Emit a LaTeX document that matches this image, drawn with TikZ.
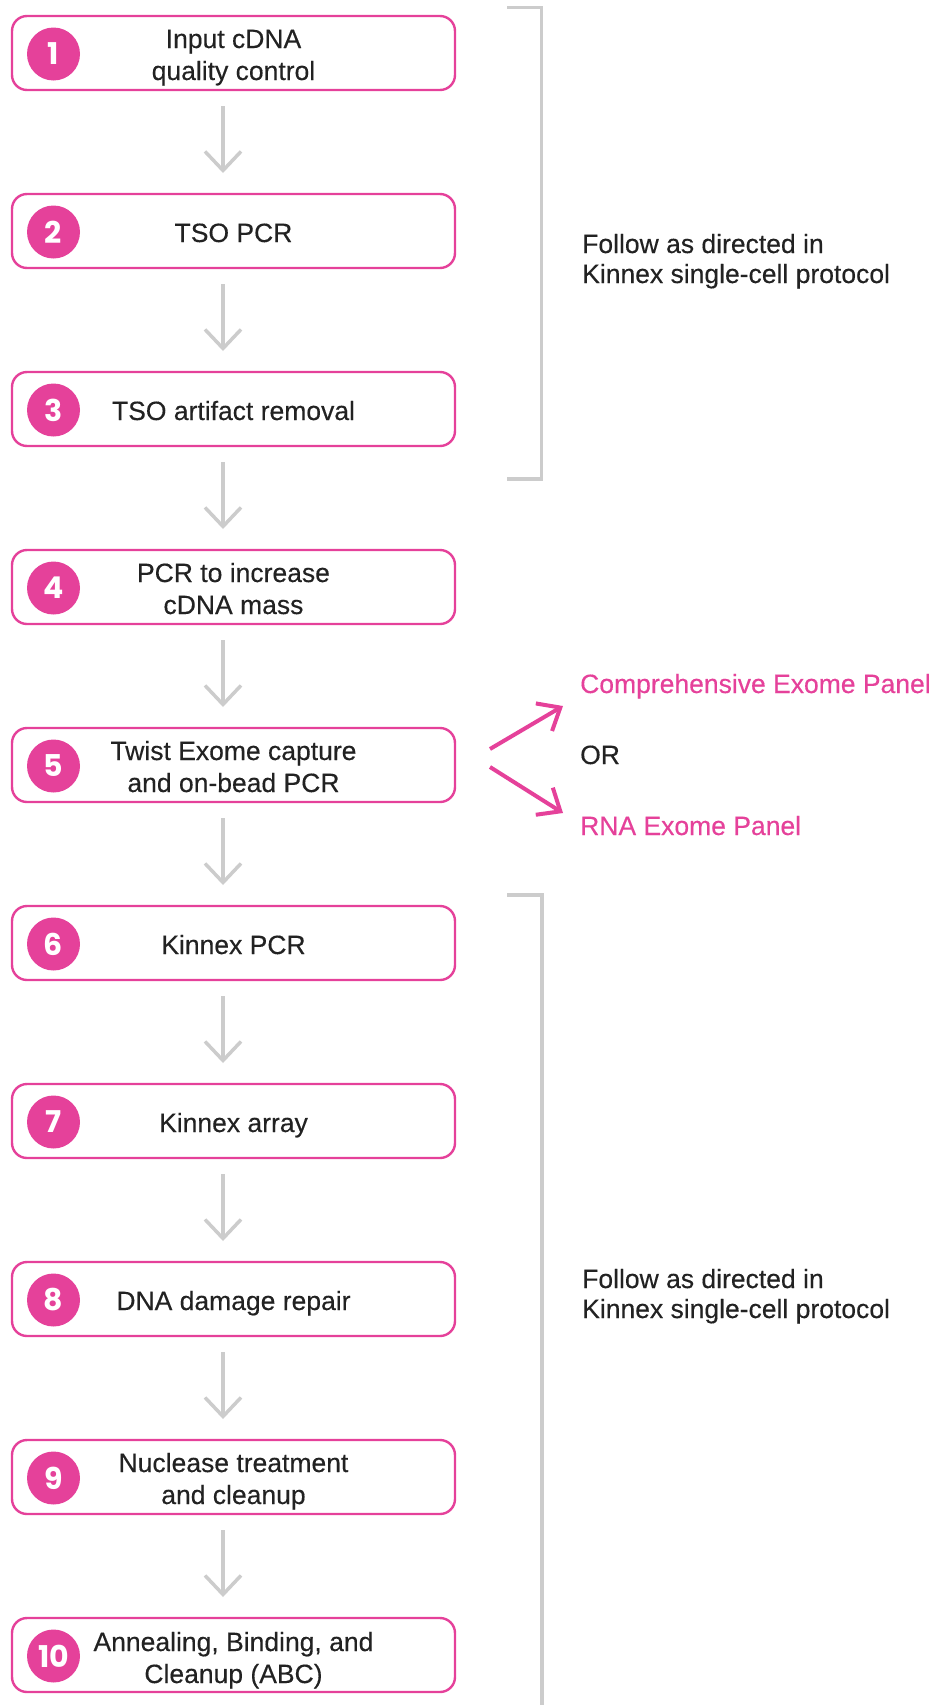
\documentclass[tikz,border=0pt]{standalone}
\usepackage{fontspec}
\setmainfont{Liberation Sans}[FakeBold=0.3]
\newfontfamily\numfont{Poppins}
\usetikzlibrary{arrows.meta}
\definecolor{kpink}{HTML}{E5419A}
\definecolor{kgray}{HTML}{CCCCCC}
\definecolor{ktext}{HTML}{222222}
\begin{document}
\begin{tikzpicture}[x=1pt,y=-1pt,
  stepbox/.style={draw=kpink, line width=2.4pt, rounded corners=15pt, minimum width=443pt, minimum height=74pt, inner sep=0pt, outer sep=0pt},
  numdot/.style={circle, fill=kpink, minimum size=53pt, inner sep=0pt, text=white, font=\numfont\bfseries\fontsize{30}{30}\selectfont},
  steptext/.style={align=center, text=ktext, font=\fontsize{26.5}{32}\selectfont, inner sep=0pt, anchor=base},
  sidetext/.style={align=left, text=ktext, font=\fontsize{26.5}{30}\selectfont, inner sep=0pt, anchor=base west},
  pinktext/.style={text=kpink, font=\fontsize{26.5}{30}\selectfont, inner sep=0pt, anchor=base west},
  flow/.style={draw=kgray, line width=3.5pt, -{Straight Barb[length=19pt,width=36pt,line width=3.5pt]}},
  branch/.style={draw=kpink, line width=4pt, -{Straight Barb[length=19pt,width=32pt,line width=4pt]}},
  bracket/.style={draw=kgray, line width=3.7pt}
]
\useasboundingbox (0,0) rectangle (932,1705);

% boxes
\node[stepbox] (b1) at (233.5,53) {};
\node[stepbox] (b2) at (233.5,231) {};
\node[stepbox] (b3) at (233.5,409) {};
\node[stepbox] (b4) at (233.5,587) {};
\node[stepbox] (b5) at (233.5,765) {};
\node[stepbox] (b6) at (233.5,943) {};
\node[stepbox] (b7) at (233.5,1121) {};
\node[stepbox] (b8) at (233.5,1299) {};
\node[stepbox] (b9) at (233.5,1477) {};
\node[stepbox] (b10) at (233.5,1655) {};

% numbers
\node[numdot] (n1) at (53.5,54) {1};
\node[numdot] (n2) at (53.5,232) {2};
\node[numdot] (n3) at (53.5,410) {3};
\node[numdot] (n4) at (53.5,588) {4};
\node[numdot] (n5) at (53.5,766) {5};
\node[numdot] (n6) at (53.5,944) {6};
\node[numdot] (n7) at (53.5,1122) {7};
\node[numdot] (n8) at (53.5,1300) {8};
\node[numdot] (n9) at (53.5,1478) {9};
\node[numdot] (n10) at (53.5,1656) {10};

% texts (base = baseline of last line)
\node[steptext] (t1) at (233.5,80) {Input cDNA\\quality control};
\node[steptext] (t2) at (233.5,242) {TSO PCR};
\node[steptext] (t3) at (233.5,420) {TSO artifact removal};
\node[steptext] (t4) at (233.5,614) {PCR to increase\\cDNA mass};
\node[steptext] (t5) at (233.5,792) {Twist Exome capture\\and on-bead PCR};
\node[steptext] (t6) at (233.5,954) {Kinnex PCR};
\node[steptext] (t7) at (233.5,1132) {Kinnex array};
\node[steptext] (t8) at (233.5,1310) {DNA damage repair};
\node[steptext] (t9) at (233.5,1504) {Nuclease treatment\\and cleanup};
\node[steptext] (t10) at (233.5,1683) {Annealing, Binding, and\\Cleanup (ABC)};

% flow arrows
\foreach \a/\b in {b1/b2,b2/b3,b3/b4,b4/b5,b5/b6,b6/b7,b7/b8,b8/b9,b9/b10}{
  \draw[flow] ([xshift=-10.5pt,yshift=-16pt]\a.south) -- ([xshift=-10.5pt,yshift=21pt]\b.north);
}

% brackets
\draw[bracket] (507,7.5) -- (541.5,7.5) -- (541.5,479) -- (507,479);
\draw[bracket] (507,895) -- (542,895) -- (542,1712);

% side notes
\node[sidetext] (s1) at (582,283) {Follow as directed in\\Kinnex single-cell protocol};
\node[sidetext] (s2) at (582,1318) {Follow as directed in\\Kinnex single-cell protocol};

% branch
\node[pinktext] (p1) at (580,693) {Comprehensive Exome Panel};
\node[sidetext] (or) at (580,764) {OR};
\node[pinktext] (p2) at (580,835) {RNA Exome Panel};
\coordinate (tipA) at (563,706);
\coordinate (tipB) at (563,813);
\draw[branch] ([shift={(35pt,16pt)}]b5.east) -- (tipA);
\draw[branch] ([shift={(35pt,-2pt)}]b5.east) -- (tipB);
\end{tikzpicture}
\end{document}
